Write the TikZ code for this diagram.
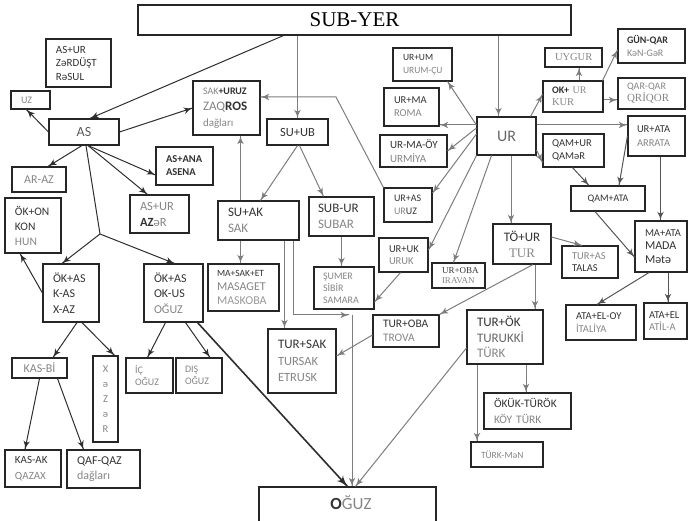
\documentclass[tikz,border=0pt]{standalone}
\usepackage{fontspec}
\setmainfont{Carlito}
\newfontfamily\timesf{Liberation Serif}
\usetikzlibrary{arrows}
\usetikzlibrary{decorations.markings}
\definecolor{txd}{HTML}{333333}
\definecolor{txg}{HTML}{858585}
\definecolor{lnd}{HTML}{2E2E2E}
\definecolor{lnm}{HTML}{555555}
\definecolor{lng}{HTML}{7D7D7D}
\newcommand{\fsz}[2]{\fontsize{#1}{#2}\selectfont}
\newcommand{\gr}[1]{\textcolor{txg}{#1}}
\hyphenpenalty=10000
\exhyphenpenalty=10000
\tikzset{arr/.style = {decoration={markings,
                                   mark=at position 1 with {\arrow[scale=1.5]{latex'}}},
                       postaction={decorate}},
         box/.style = {draw=black!85, line width=1.1pt, inner xsep=10pt, inner ysep=1pt, align=left, text=txd},
         dk/.style = {color=lnd, line width=1pt},
         md/.style = {color=lnm, line width=1pt},
         gy/.style = {color=lng, line width=1pt}}

\begin{document}
\begin{tikzpicture}[x=1pt, y=-1pt]
  \useasboundingbox (0,0) rectangle (697,521);

  \node[box, text width=413, align=center, minimum height=30, font=\timesf\fsz{21}{24}, text=black] (subyer) at (354.5,20) {SUB-YER};

  % left side
  \node[box, text width=45, minimum height=48, font=\fsz{11}{13.5}] (asur) at (78.5,63) {AS+UR\\ZəRDÜŞT\\RəSUL};
  \node[box, text width=19, minimum height=18, font=\fsz{10}{11}, text=txg] (uz) at (30.5,100) {UZ};
  \node[box, text width=50, align=center, minimum height=26, font=\fsz{14}{15}, text=black!65] (as) at (84,132) {AS};
  \node[box, text width=34, align=center, minimum height=25, font=\fsz{12}{13}, text=txg] (araz) at (39,179.5) {AR-AZ};
  \node[box, text width=37, minimum height=38, font=\bfseries\fsz{10.5}{13}] (asana) at (184.5,166) {AS+ANA\\ASENA};
  \node[box, text width=39, minimum height=38, font=\fsz{12.5}{16}] (asazer) at (159.5,214) {\gr{AS+UR}\\\textbf{AZ}\gr{əR}};
  \node[box, text width=36, minimum height=55, font=\fsz{11.5}{15}] (okon) at (33,225.5) {ÖK+ON\\KON\\\gr{HUN}};
  \node[box, text width=36, minimum height=58, font=\fsz{12}{15.5}] (okas1) at (71,293) {ÖK+AS\\K-AS\\X-AZ};
  \node[box, text width=39, minimum height=58, font=\fsz{12}{15.5}] (okas2) at (173.5,293) {ÖK+AS\\OK-US\\\gr{OĞUZ}};
  \node[box, text width=35, align=center, minimum height=20, font=\fsz{12}{13}, text=txg] (kasbi) at (39.5,368) {KAS-Bİ};
  \node[box, text width=19, inner xsep=3pt, align=center, minimum height=86, font=\fsz{10.5}{15}, text=txg] (xezer) at (105.5,399) {X\\ə\\Z\\ə\\R};
  \node[box, text width=29, inner xsep=9pt, minimum height=35, font=\fsz{10}{12.5}, text=txg] (icoguz) at (149.5,375.5) {İÇ\\OĞUZ};
  \node[box, text width=28, inner xsep=9pt, minimum height=35, font=\fsz{10}{12.5}, text=txg] (disoguz) at (199,375.5) {DIŞ\\OĞUZ};
  \node[box, text width=36, minimum height=37, font=\fsz{11}{15.5}] (kasak) at (33,468.5) {KAS-AK\\\gr{QAZAX}};
  \node[box, text width=53, minimum height=38, font=\fsz{12}{15.5}] (qafqaz) at (103.5,469) {QAF-QAZ\\\gr{dağları}};
  \node[box, text width=157, minimum height=46] (oguz) at (347.5,510) {};
  \node[font=\fsz{17}{20}, text=txd] (oguzt) at (351,503) {\textbf{O}\gr{ĞUZ}};

  % middle
  \node[box, text width=47, minimum height=54, font=\fsz{11}{16}] (zaqros) at (226.5,108) {{\fsz{10}{11}\gr{SAK}\textbf{+URUZ}}\\{\fsz{13}{14}\gr{ZAQ}\textbf{ROS}}\\\gr{dağları}};
  \node[box, text width=41, align=center, minimum height=26, font=\fsz{12.5}{14}] (suub) at (297.5,132) {SU+UB};
  \node[box, text width=61, minimum height=39, font=\fsz{13}{16.5}] (suak) at (258.5,220.5) {SU+AK\\\gr{SAK}};
  \node[box, text width=47, inner xsep=9pt, minimum height=39, font=\fsz{13}{16}] (subur) at (341.5,216.5) {SUB-UR\\\gr{SUBAR}};
  \node[box, text width=53, inner xsep=9pt, minimum height=47, font=\fsz{12}{14}] (masaget) at (243.5,287.5) {{\fsz{9.5}{10}MA+SAK+ET}\\\gr{MASAGET}\\\textcolor{black!40}{MASKOBA}};
  \node[box, text width=42, inner xsep=9pt, minimum height=42, font=\fsz{10}{12}, text=txg] (sumer) at (344,288) {ŞUMER\\SİBİR\\SAMARA};
  \node[box, text width=48, minimum height=64, font=\fsz{12.5}{16.5}] (tursak) at (302,361) {{\fsz{13}{15}TUR+SAK}\\\gr{TURSAK}\\\gr{ETRUSK}};
  \node[box, text width=46, minimum height=32, font=\fsz{11.5}{13.5}] (turoba) at (406,331) {TUR+OBA\\\gr{TROVA}};
  \node[box, text width=28, minimum height=34, font=\fsz{10}{12.5}] (uras) at (408,205) {UR+AS\\\gr{UR}UZ};
  \node[box, text width=29, minimum height=34, font=\fsz{10.5}{12}] (uruk) at (403.5,255) {UR+UK\\\gr{URUK}};
  \node[box, text width=33, minimum height=25, font=\timesf\fsz{9}{9.5}] (iravan) at (458.5,275.5) {UR+OBA\\\gr{IRAVAN}};

  % right side
  \node[box, text width=39, align=center, minimum height=38, font=\fsz{16}{18}, text=black!60] (ur) at (506.5,136) {UR};
  \node[box, text width=39, minimum height=33, font=\fsz{9.5}{13}] (urum) at (422.5,64.5) {UR+UM\\\gr{URUM-ÇU}};
  \node[box, text width=35, minimum height=38, font=\fsz{10.5}{13.3}] (roma) at (411.5,107) {UR+MA\\\gr{ROMA}};
  \node[box, text width=47, minimum height=32, font=\fsz{11}{13.3}] (urmiya) at (413.5,151) {UR-MA-ÖY\\\gr{URMİYA}};
  \node[box, text width=37, align=center, minimum height=19, font=\timesf\fsz{10.5}{11}, text=txg] (uygur) at (573.5,57.5) {UYGUR};
  \node[box, text width=49, inner xsep=9pt, minimum height=34, font=\fsz{10}{12.3}] (gunqar) at (651.5,46) {\textbf{GÜN-QAR}\\\gr{KəN-GəR}};
  \node[box, text width=42, inner xsep=9pt, minimum height=31, font=\fsz{10}{12}] (kur) at (573,96.5) {\textbf{OK+} \gr{\timesf UR}\\{\timesf\fsz{10.5}{12}\gr{KUR}}};
  \node[box, text width=49, inner xsep=9pt, minimum height=31, font=\fsz{10}{11.7}] (qarqar) at (651.5,93.5) {\gr{QAR-QAR}\\{\timesf\fsz{11}{12}\gr{QRİQOR}}};
  \node[box, text width=39, inner xsep=9pt, minimum height=40, font=\fsz{10.5}{13.3}] (urata) at (656.5,136) {UR+ATA\\\gr{ARRATA}};
  \node[box, text width=43, inner xsep=9pt, minimum height=33, font=\fsz{10.5}{12.7}] (qamur) at (573.5,150.5) {QAM+UR\\QAMəR};
  \node[box, text width=56, inner xsep=9pt, align=center, minimum height=25, font=\fsz{10}{11}] (qamata) at (608,198.5) {QAM+ATA};
  \node[box, text width=32, minimum height=51, font=\fsz{12}{13.5}] (maata) at (661,246.5) {{\fsz{10.5}{12}MA+ATA}\\MADA\\Mətə};
  \node[box, text width=38, align=center, minimum height=40, font=\fsz{13}{16}] (toUR) at (522,244) {TÖ+UR\\{\timesf\gr{TUR}}};
  \node[box, text width=36, minimum height=32, font=\fsz{10.5}{12}] (turas) at (590,262) {\gr{TUR+AS}\\TALAS};
  \node[box, text width=50, minimum height=35, font=\fsz{10.5}{12.7}] (ataeloy) at (601,322.5) {ATA+EL-OY\\\gr{İTALİYA}};
  \node[box, text width=33, inner xsep=5pt, minimum height=36, font=\fsz{10.5}{12.7}] (atael) at (665.5,321) {ATA+EL\\\gr{ATİL-A}};
  \node[box, text width=56, minimum height=54, font=\fsz{13}{15.5}] (turok) at (505,337) {TUR+ÖK\\\textcolor{black!60}{TURUKKİ}\\\gr{TÜRK}};
  \node[box, text width=67, minimum height=36, font=\fsz{11.5}{15.5}] (okuk) at (527.5,411) {ÖKÜK-TÜRÖK\\\gr{KÖY TÜRK}};
  \node[box, text width=52, minimum height=25, font=\fsz{9.5}{10}, text=txg] (turkmen) at (507,454.5) {TÜRK-MəN};

  % connectors, left
  \coordinate (jn) at (100,234);
  \draw[dk, arr] ([xshift=-71]subyer.south) -- ([xshift=6]as.north);
  \draw[dk, arr] (as.east) -- (zaqros.west);
  \draw[dk, arr] (as.west) -- ([xshift=-4]uz.south);
  \draw[dk, arr] ([xshift=-2]as.south) -- ([xshift=9]araz.north);
  \draw[dk, arr] ([xshift=4]as.south) -- ([yshift=-9]asana.west);
  \draw[dk, arr] ([xshift=4]as.south) -- ([xshift=-12]asazer.north);
  \draw[dk] ([xshift=2]as.south) -- (jn);
  \draw[dk, arr] (jn) -- ([xshift=-9]okas1.north);
  \draw[dk, arr] (jn) -- ([xshift=1]okas2.north);
  \draw[dk, arr] (okas1.west) -- ([xshift=-13]okon.south);
  \draw[dk, arr] ([xshift=6]okas1.south) -- ([xshift=13.5]kasbi.north);
  \draw[dk, arr] ([xshift=11]okas1.south) -- ([xshift=9]xezer.north);
  \draw[dk, arr] ([xshift=-8]okas2.south) -- ([xshift=-2]icoguz.north);
  \draw[dk, arr] ([xshift=12]okas2.south) -- ([xshift=11]disoguz.north);
  \draw[dk, arr] (kasbi.south) -- ([xshift=-8]kasak.north);
  \draw[dk, arr] ([xshift=18]kasbi.south) -- ([xshift=-20]qafqaz.north);
  \draw[dk, arr, line width=1.6pt] ([xshift=24]okas2.south) -- (oguz.north);

  % connectors, middle
  \coordinate (bend) at (352,315);
  \coordinate (zq) at (336,97);
  \draw[gy, arr] (suub.north |- subyer.south) -- (suub.north);
  \draw[gy, arr] (suub.south) -- ([xshift=2]suak.north);
  \draw[gy, arr] ([xshift=2]suub.south) -- ([xshift=-18]subur.north);
  \draw[gy, arr] ([xshift=-18]suak.north) -- ([xshift=-18]suak.north |- zaqros.south);
  \draw[gy, arr] ([xshift=-18]suak.south) -- ([xshift=-18]suak.south |- masaget.north);
  \draw[gy, arr] ([xshift=26]suak.south) -- ([xshift=26]suak.south |- tursak.north);
  \draw[gy, arr] ([xshift=35]suak.south) |- ([xshift=-3]bend);
  \draw[gy, arr] (bend) -- (bend |- oguz.north);
  \draw[gy, arr] (subur.south) -- (subur.south |- sumer.north);
  \draw[gy, arr] ([xshift=-3]uruk.south) -- ([yshift=-14]sumer.east);
  \draw[gy, arr] ([yshift=-4]turoba.west) -- ([yshift=5]tursak.east);
  \draw[gy, arr] (uras.north west) -- (zq) -- (zq -| zaqros.east);

  % connectors, right
  \draw[gy, arr] ([xshift=-8]ur.north |- subyer.south) -- ([xshift=-8]ur.north);
  \draw[gy, arr] ([yshift=11]ur.west) -- ([xshift=-5]urum.south east);
  \draw[gy, arr] ([yshift=11]ur.west) -- ([yshift=11]ur.west -| roma.east);
  \draw[gy, arr] ([yshift=8]ur.west) -- (urmiya.east);
  \draw[gy, arr] ([yshift=2]ur.west) -- ([yshift=12]uras.east);
  \draw[gy, arr] (ur.south west) -- ([yshift=5]uruk.east);
  \draw[gy, arr] ([xshift=-15]ur.south) -- ([xshift=-5]iravan.north);
  \draw[gy, arr] ([xshift=4.5]ur.south) -- ([xshift=4.5]ur.south |- toUR.north);
  \draw[gy, arr] ([xshift=-6]ur.north east) -- ([yshift=2]kur.west);
  \draw[gy, arr] ([yshift=11]ur.east) -- ([yshift=11]ur.east -| urata.west);
  \draw[gy, arr] ([yshift=-14]ur.east) -- ([yshift=-12]qamur.west);
  \draw[gy, arr] ([xshift=6]kur.north) -- ([xshift=6]kur.north |- uygur.south);
  \draw[gy, arr] ([xshift=-1]kur.north east) -- ([yshift=-4]gunqar.west);
  \draw[gy, arr] ([yshift=-3.5]kur.east) -- ([yshift=-3.5]kur.east -| qarqar.west);
  \draw[md, arr] ([xshift=-1]qamur.south) -- ([xshift=-19]qamata.north);
  \draw[md, arr] (urata.west) -- ([xshift=11]qamata.north);
  \draw[md, arr] ([xshift=4]urata.south) -- ([xshift=4]urata.south |- maata.north);
  \draw[md, arr] ([xshift=-13]qamata.south) -- ([yshift=-10.5]maata.west);
  \draw[md, arr] ([xshift=-12]maata.south) -- ([xshift=-4]ataeloy.north);
  \draw[md, arr] ([xshift=7]maata.south) -- ([xshift=7]maata.south |- atael.north);
  \draw[gy, arr] ([xshift=11]toUR.south) -- (turoba.north east);
  \draw[gy, arr] ([xshift=13]toUR.south) -- ([xshift=13]toUR.south |- turok.north);
  \draw[gy, arr] ([yshift=7]toUR.east) -- ([xshift=-8]turas.north);
  \draw[gy, arr] ([xshift=-28]turok.south) -- ([xshift=-28]turok.south |- turkmen.north);
  \draw[gy, arr] ([xshift=21]turok.south) -- ([xshift=21]turok.south |- okuk.north);
  \draw[gy, arr] ([yshift=-11]turok.west) -- ([xshift=8]oguz.north);
\end{tikzpicture}
\end{document}
